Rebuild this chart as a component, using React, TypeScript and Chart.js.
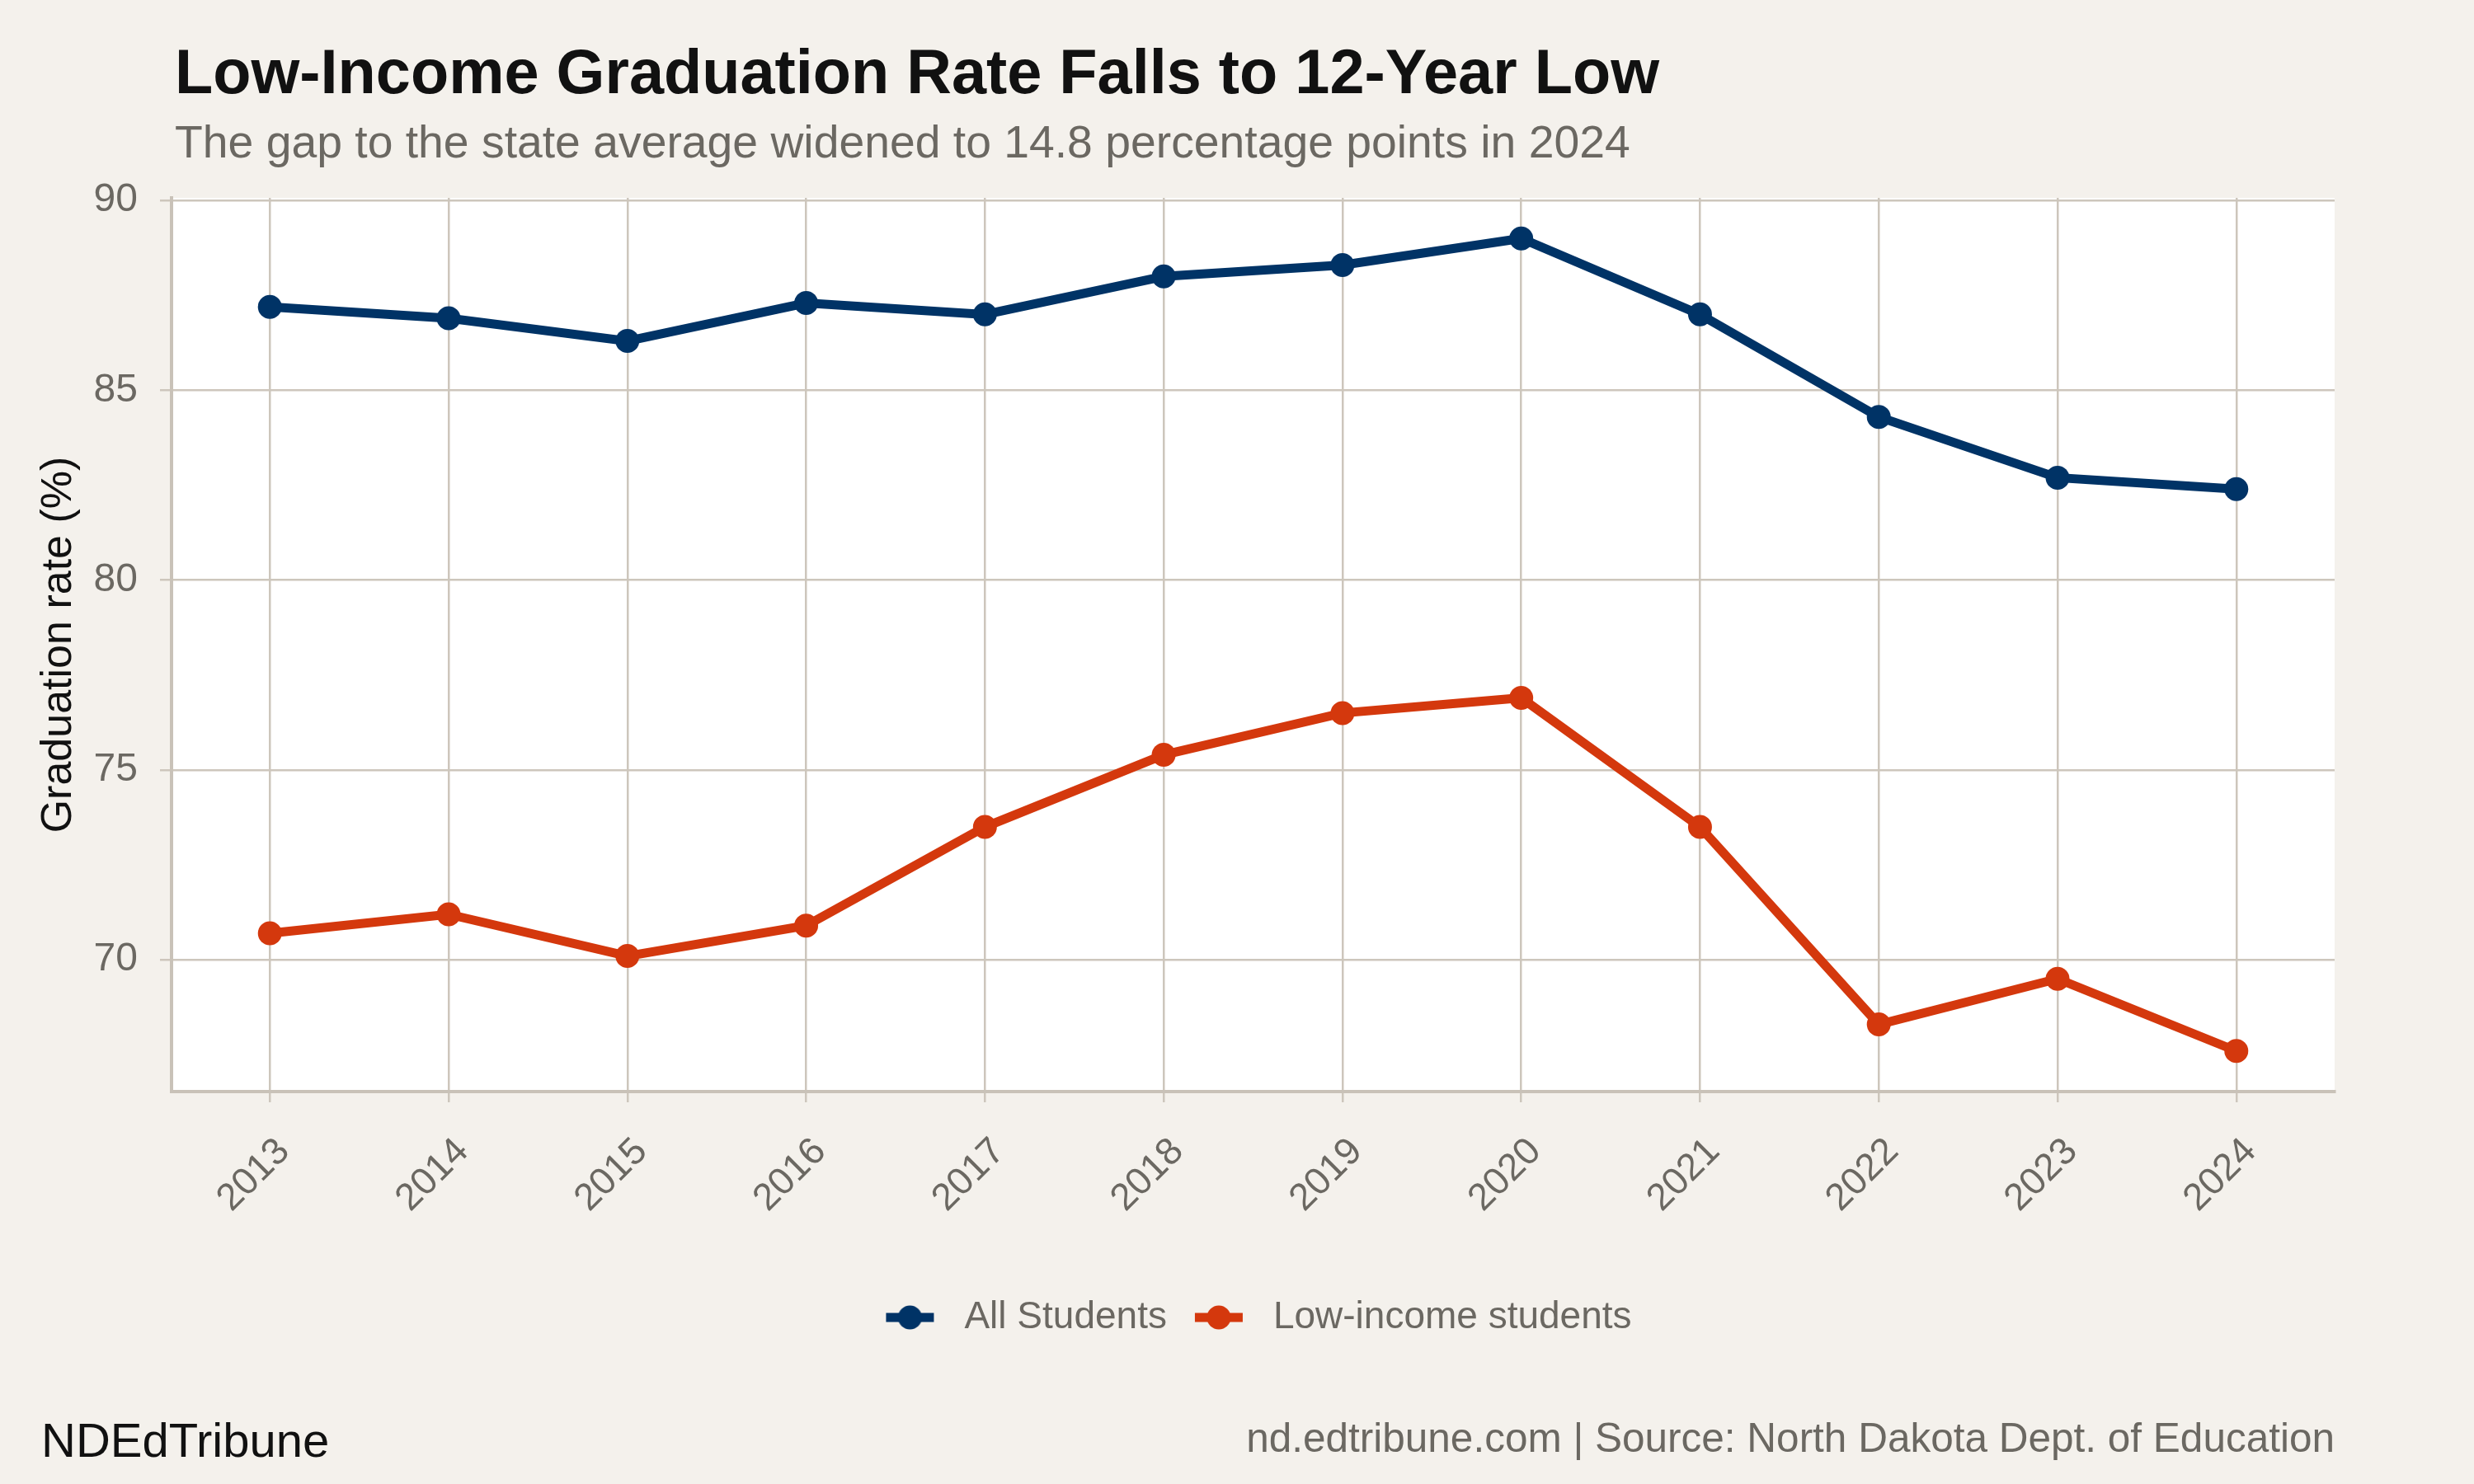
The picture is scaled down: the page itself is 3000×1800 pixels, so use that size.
import { useEffect, useRef } from "react";
import { Chart, registerables } from "chart.js";

Chart.register(...registerables);

// Graduation rates by school year
const years = [2013, 2014, 2015, 2016, 2017, 2018, 2019, 2020, 2021, 2022, 2023, 2024];
const allStudents = [87.2, 86.9, 86.3, 87.3, 87.0, 88.0, 88.3, 89.0, 87.0, 84.3, 82.7, 82.4];
const lowIncome = [70.7, 71.2, 70.1, 70.9, 73.5, 75.4, 76.5, 76.9, 73.5, 68.3, 69.5, 67.6];
const yTicks = [70, 75, 80, 85, 90];
const seriesNames = ["All Students", "Low-income students"];

const titleText = "Low-Income Graduation Rate Falls to 12-Year Low";
const subtitleText = "The gap to the state average widened to 14.8 percentage points in 2024";
const yAxisTitle = "Graduation rate (%)";
const brandText = "NDEdTribune";
const sourceText = "nd.edtribune.com | Source: North Dakota Dept. of Education";

const FONT = '"Liberation Sans", Arial, Helvetica, sans-serif';
const PAGE_BG = "#f4f1ec";
const GRID = "#cdc6bc";
const AXIS = "#c9c2b8";
const MUTED = "#6b6862";
const INK = "#111111";
const NAVY = "#003366";
const RED = "#d4380d";

// Legend key: a short line segment with a dot in the middle
function legendKey(color: string): HTMLCanvasElement {
  const c = document.createElement("canvas");
  c.width = 86;
  c.height = 32;
  const g = c.getContext("2d")!;
  g.fillStyle = color;
  g.fillRect(14, 10.5, 58, 11);
  g.beginPath();
  g.arc(43, 16, 14.5, 0, Math.PI * 2);
  g.fill();
  return c;
}

const pagePlugin = {
  id: "page",
  beforeDraw(chart: Chart) {
    const { ctx, chartArea: a, width, height } = chart;
    ctx.save();
    ctx.fillStyle = PAGE_BG;
    ctx.fillRect(0, 0, width, height);
    ctx.fillStyle = "#ffffff";
    ctx.fillRect(a.left, a.top, a.right - a.left, a.bottom - a.top);
    ctx.restore();
  },
  afterDraw(chart: Chart) {
    const { ctx, chartArea: a } = chart;
    ctx.save();
    ctx.textBaseline = "alphabetic";
    ctx.textAlign = "left";
    ctx.fillStyle = INK;
    ctx.font = `bold 75.7px ${FONT}`;
    ctx.fillText(titleText, a.left + 4, 113);
    ctx.fillStyle = MUTED;
    ctx.font = `55.3px ${FONT}`;
    ctx.fillText(subtitleText, a.left + 4, 191);
    ctx.fillStyle = INK;
    ctx.font = `58px ${FONT}`;
    ctx.fillText(brandText, 50, 1767);
    ctx.fillStyle = MUTED;
    ctx.font = `49.5px ${FONT}`;
    ctx.textAlign = "right";
    ctx.fillText(sourceText, a.right, 1761);
    ctx.restore();
  },
};

export default function App() {
  const ref = useRef<HTMLCanvasElement | null>(null);

  useEffect(() => {
    document.body.style.margin = "0";
    const canvas = ref.current;
    if (!canvas) return;
    const keys = [legendKey(NAVY), legendKey(RED)];

    const lineStyle = (color: string) => ({
      borderColor: color,
      backgroundColor: color,
      borderWidth: 11,
      pointRadius: 14.5,
      pointHoverRadius: 14.5,
      pointBorderWidth: 0,
      pointBackgroundColor: color,
      tension: 0,
    });

    const chart = new Chart(canvas, {
      type: "line",
      data: {
        datasets: [
          {
            label: seriesNames[0],
            data: years.map((x, i) => ({ x, y: allStudents[i] })),
            ...lineStyle(NAVY),
          },
          {
            label: seriesNames[1],
            data: years.map((x, i) => ({ x, y: lowIncome[i] })),
            ...lineStyle(RED),
          },
        ],
      },
      options: {
        animation: false,
        responsive: false,
        events: [],
        layout: { padding: { left: 0, top: 240, right: 169, bottom: 169 } },
        plugins: {
          title: { display: false },
          tooltip: { enabled: false },
          legend: {
            position: "bottom",
            fullSize: false,
            labels: {
              usePointStyle: true,
              pointStyleWidth: 86,
              boxHeight: 32,
              padding: 20,
              color: MUTED,
              font: { family: FONT, size: 46 },
              generateLabels: (c: Chart) =>
                Chart.defaults.plugins.legend.labels
                  .generateLabels(c)
                  .map((item: any, i: number) => ({ ...item, pointStyle: keys[i], fontColor: MUTED })),
            },
          },
        },
        scales: {
          x: {
            type: "linear",
            min: 2012.45,
            max: 2024.55,
            afterBuildTicks: (s: any) => {
              s.ticks = years.map((v) => ({ value: v }));
            },
            afterFit: (s: any) => {
              s.height = 231;
            },
            ticks: {
              autoSkip: false,
              minRotation: 45,
              maxRotation: 45,
              padding: 33,
              labelOffset: 17,
              color: MUTED,
              font: { family: FONT, size: 46 },
              callback: (v: any) => String(v),
            },
            grid: { color: GRID, lineWidth: 2.5, tickLength: 13, drawTicks: true },
            border: { color: AXIS, width: 4 },
          },
          y: {
            min: 66.53,
            max: 90.07,
            afterBuildTicks: (s: any) => {
              s.ticks = yTicks.map((v) => ({ value: v }));
            },
            afterFit: (s: any) => {
              s.width = 208;
            },
            ticks: {
              padding: 27,
              color: MUTED,
              font: { family: FONT, size: 48 },
              callback: (v: any) => String(v),
            },
            grid: { color: GRID, lineWidth: 2.5, tickLength: 14, drawTicks: true },
            border: { color: AXIS, width: 4 },
            title: {
              display: true,
              text: yAxisTitle,
              color: INK,
              font: { family: FONT, size: 52 },
              padding: { top: 40, bottom: 0 },
            },
          },
        },
      },
      plugins: [pagePlugin],
    });

    return () => chart.destroy();
  }, []);

  return (
    <div style={{ width: 3000, height: 1800, background: PAGE_BG }}>
      <canvas ref={ref} width={3000} height={1800} style={{ display: "block", width: 3000, height: 1800 }} />
    </div>
  );
}
